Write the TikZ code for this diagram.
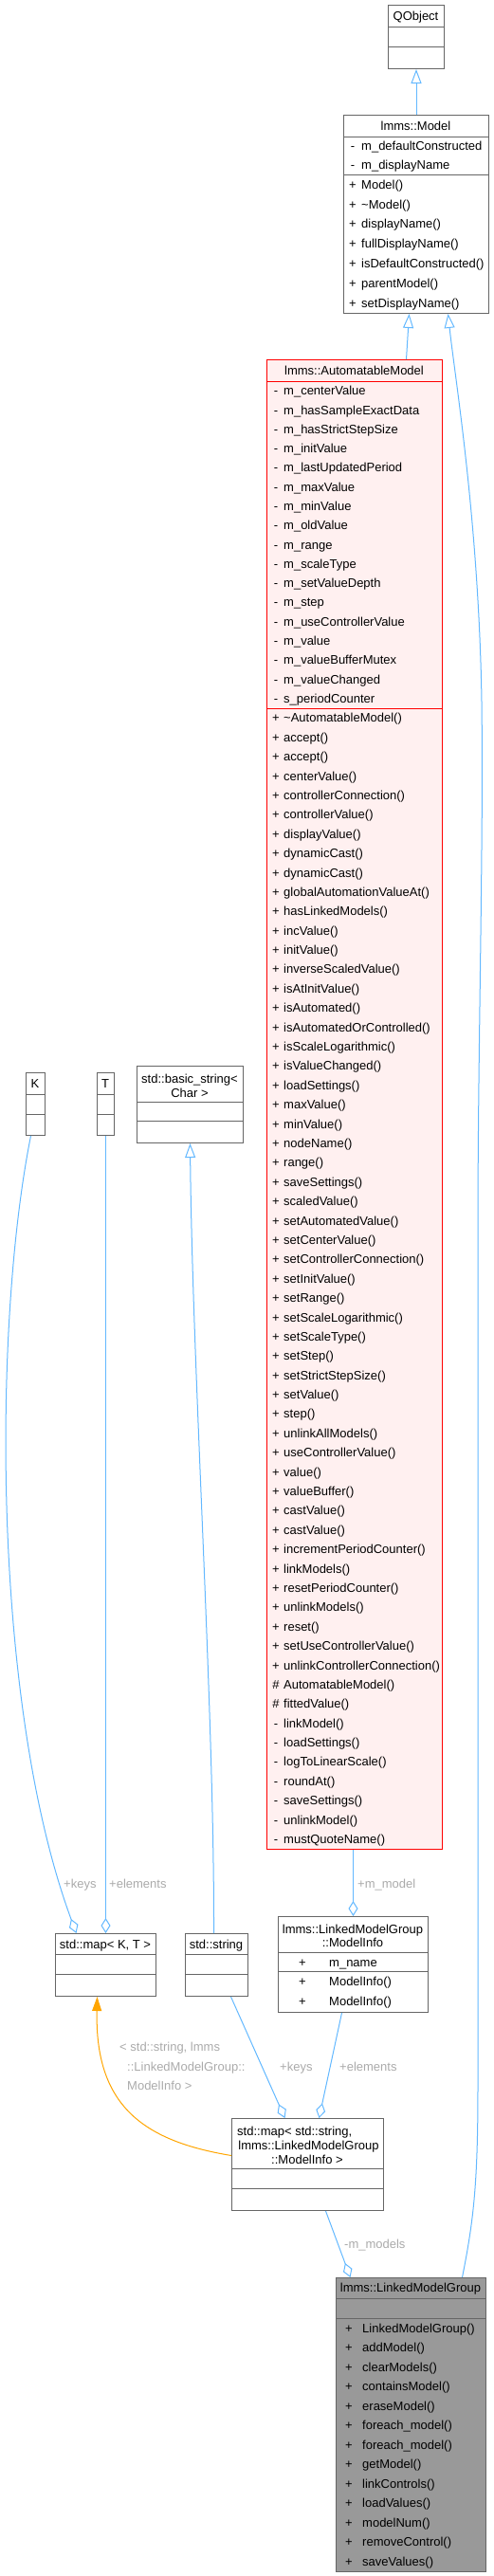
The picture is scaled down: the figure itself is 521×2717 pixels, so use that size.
\documentclass[tikz,border=0pt]{standalone}
\usepackage{fontspec}
\setmainfont{Liberation Sans}
\usetikzlibrary{arrows.meta}

\definecolor{edgeblue}{HTML}{63B8FF}
\definecolor{boxgray}{HTML}{666666}
\definecolor{labelgray}{HTML}{AAAAAA}
\definecolor{hlred}{HTML}{FF0000}
\definecolor{hlfill}{HTML}{FFF0F0}
\definecolor{maingray}{HTML}{999999}
\definecolor{tmplorange}{HTML}{FFA500}

\tikzset{
  classbox/.style={draw=boxgray, fill=white, line width=1pt, inner sep=0pt, anchor=north west},
  rule/.style={draw=boxgray, line width=1pt},
  txt/.style={font=\fontsize{13}{15}\selectfont, inner sep=0pt},
  title/.style={txt, anchor=base},
  member/.style={txt, anchor=base west},
  vis/.style={txt, anchor=base},
  edgelabel/.style={txt, anchor=base west, text=labelgray},
  inherit/.style={draw=edgeblue, line width=1pt, -{Triangle[open, length=15pt, width=11pt]}},
  usage/.style={draw=edgeblue, line width=1pt, -{Diamond[open, length=16pt, width=10pt]}},
  tmpl/.style={draw=tmplorange, line width=1pt, -{Triangle[length=15pt, width=10pt]}},
}

\begin{document}
\begin{tikzpicture}[x=1pt, y=-1pt]
  \useasboundingbox (0,0) rectangle (521,2717);

  % QObject
  \node[classbox, minimum width=59pt, minimum height=67pt] (qobject) at (409,5) {};
  \draw[rule] (409,28) -- (468,28) (409,49) -- (468,49);
  \node[title] (qobject-t) at (438.5,21) {QObject};

  % lmms::Model
  \node[classbox, minimum width=153pt, minimum height=209pt] (model) at (362,121) {};
  \draw[rule] (362,144) -- (515,144) (362,184) -- (515,184);
  \node[title] (model-t) at (438.5,137) {lmms::Model};
  \foreach \p/\m [count=\i from 0] in {-/m\_defaultConstructed, -/m\_displayName} {
    \node[vis] (model-ap\i) at (372,144+\i*20+14.8) {\p};
    \node[member] (model-a\i) at (381,144+\i*20+14.8) {\m};
  }
  \foreach \p/\m [count=\i from 0] in {+/Model(), +/\textasciitilde Model(), +/displayName(),
      +/fullDisplayName(), +/isDefaultConstructed(), +/parentModel(), +/setDisplayName()} {
    \node[vis] (model-mp\i) at (372,184+\i*20.86+15.2) {\p};
    \node[member] (model-m\i) at (381,184+\i*20.86+15.2) {\m};
  }

  % lmms::AutomatableModel
  \node[classbox, draw=hlred, fill=hlfill, minimum width=185pt, minimum height=1571pt] (automatable) at (281,379) {};
  \draw[rule, draw=hlred] (281,402) -- (466,402) (281,747) -- (466,747);
  \node[title] (automatable-t) at (373.5,395) {lmms::AutomatableModel};
  \foreach \m [count=\i from 0] in {m\_centerValue, m\_hasSampleExactData, m\_hasStrictStepSize,
      m\_initValue, m\_lastUpdatedPeriod, m\_maxValue, m\_minValue, m\_oldValue, m\_range,
      m\_scaleType, m\_setValueDepth, m\_step, m\_useControllerValue, m\_value,
      m\_valueBufferMutex, m\_valueChanged, s\_periodCounter} {
    \node[vis] (automatable-ap\i) at (291,402+\i*20.29+14.8) {-};
    \node[member] (automatable-a\i) at (299,402+\i*20.29+14.8) {\m};
  }
  \foreach \p/\m [count=\i from 0] in {+/\textasciitilde AutomatableModel(), +/accept(), +/accept(),
      +/centerValue(), +/controllerConnection(), +/controllerValue(), +/displayValue(),
      +/dynamicCast(), +/dynamicCast(), +/globalAutomationValueAt(), +/hasLinkedModels(),
      +/incValue(), +/initValue(), +/inverseScaledValue(), +/isAtInitValue(), +/isAutomated(),
      +/isAutomatedOrControlled(), +/isScaleLogarithmic(), +/isValueChanged(), +/loadSettings(),
      +/maxValue(), +/minValue(), +/nodeName(), +/range(), +/saveSettings(), +/scaledValue(),
      +/setAutomatedValue(), +/setCenterValue(), +/setControllerConnection(), +/setInitValue(),
      +/setRange(), +/setScaleLogarithmic(), +/setScaleType(), +/setStep(), +/setStrictStepSize(),
      +/setValue(), +/step(), +/unlinkAllModels(), +/useControllerValue(), +/value(),
      +/valueBuffer(), +/castValue(), +/castValue(), +/incrementPeriodCounter(), +/linkModels(),
      +/resetPeriodCounter(), +/unlinkModels(), +/reset(), +/setUseControllerValue(),
      +/unlinkControllerConnection(), \#/AutomatableModel(), \#/fittedValue(), -/linkModel(),
      -/loadSettings(), -/logToLinearScale(), -/roundAt(), -/saveSettings(), -/unlinkModel(),
      -/mustQuoteName()} {
    \node[vis] (automatable-mp\i) at (291,747+\i*20.39+14.9) {\p};
    \node[member] (automatable-m\i) at (299,747+\i*20.39+14.9) {\m};
  }

  % K, T, std::basic_string< Char >
  \node[classbox, minimum width=20pt, minimum height=66pt] (k) at (27,1131) {};
  \draw[rule] (27,1154) -- (47,1154) (27,1175) -- (47,1175);
  \node[title] (k-t) at (37,1147) {K};
  \node[classbox, minimum width=18pt, minimum height=66pt] (t) at (102,1131) {};
  \draw[rule] (102,1154) -- (120,1154) (102,1175) -- (120,1175);
  \node[title] (t-t) at (111,1147) {T};
  \node[classbox, minimum width=112pt, minimum height=81pt] (basic) at (144,1124) {};
  \draw[rule] (144,1162) -- (256,1162) (144,1182) -- (256,1182);
  \node[title] (basic-t1) at (200,1142) {std::basic\_string<};
  \node[title] (basic-t2) at (200,1157) {Char >};

  % std::map< K, T >, std::string
  \node[classbox, minimum width=106pt, minimum height=66pt] (mapkt) at (58,2039) {};
  \draw[rule] (58,2061) -- (164,2061) (58,2082) -- (164,2082);
  \node[title] (mapkt-t) at (111,2055) {std::map< K, T >};
  \node[classbox, minimum width=66pt, minimum height=66pt] (string) at (195,2039) {};
  \draw[rule] (195,2061) -- (261,2061) (195,2082) -- (261,2082);
  \node[title] (string-t) at (228,2055) {std::string};

  % lmms::LinkedModelGroup::ModelInfo
  \node[classbox, minimum width=158pt, minimum height=101pt] (modelinfo) at (293,2021) {};
  \draw[rule] (293,2059) -- (451,2059) (293,2079) -- (451,2079);
  \node[title] (modelinfo-t1) at (372,2039) {lmms::LinkedModelGroup};
  \node[title] (modelinfo-t2) at (372,2053.5) {::ModelInfo};
  \node[vis] (modelinfo-ap0) at (319,2074.5) {+};
  \node[member] (modelinfo-a0) at (347,2074.5) {m\_name};
  \foreach \i in {0,1} {
    \node[vis] (modelinfo-mp\i) at (319,2079+\i*21.5+15.4) {+};
    \node[member] (modelinfo-m\i) at (347,2079+\i*21.5+15.4) {ModelInfo()};
  }

  % std::map< std::string, lmms::LinkedModelGroup::ModelInfo >
  \node[classbox, minimum width=160pt, minimum height=97pt] (bigmap) at (244,2234) {};
  \draw[rule] (244,2287) -- (404,2287) (244,2308) -- (404,2308);
  \node[member] (bigmap-t1) at (250,2252) {std::map< std::string,};
  \node[title] (bigmap-t2) at (325.5,2267) {lmms::LinkedModelGroup};
  \node[title] (bigmap-t3) at (324,2282) {::ModelInfo >};

  % lmms::LinkedModelGroup
  \node[classbox, fill=maingray, minimum width=158pt, minimum height=310pt] (lmg) at (354,2402) {};
  \draw[rule] (354,2424) -- (512,2424) (354,2445) -- (512,2445);
  \node[title] (lmg-t) at (433,2417.6) {lmms::LinkedModelGroup};
  \foreach \m [count=\i from 0] in {LinkedModelGroup(), addModel(), clearModels(), containsModel(),
      eraseModel(), foreach\_model(), foreach\_model(), getModel(), linkControls(), loadValues(),
      modelNum(), removeControl(), saveValues()} {
    \node[vis] (lmg-mp\i) at (368,2445+\i*20.54+15) {+};
    \node[member] (lmg-m\i) at (382,2445+\i*20.54+15) {\m};
  }

  % Inheritance
  \draw[inherit] (model.north) -- (qobject.south);
  \draw[inherit] ([xshift=54.5pt]automatable.north) -- ([xshift=-7.5pt]model.south);
  \draw[inherit] ([xshift=54pt]lmg.north) .. controls (500,2340) and (504,2300) .. (504,2200)
    -- (504,1300) .. controls (504,1100) and (510,900) .. (508,740)
    .. controls (505,550) and (480,400) .. ([xshift=33.5pt]model.south);
  \draw[inherit] ([xshift=-3pt]string.north) .. controls (226,1800) and (203,1450) .. (basic.south);

  % Usage
  \draw[usage] ([xshift=-5pt]k.south) .. controls (-8,1400) and (-8,1800) .. ([xshift=-31pt]mapkt.north);
  \draw[usage] (t.south) -- (mapkt.north);
  \draw[usage] ([xshift=-1.5pt]automatable.south) -- (modelinfo.north);
  \draw[usage] ([xshift=15pt]string.south) -- ([xshift=-24pt]bigmap.north);
  \draw[usage] ([xshift=-12pt]modelinfo.south) -- ([xshift=12pt]bigmap.north);
  \draw[usage] ([xshift=19pt]bigmap.south) -- ([xshift=-64pt]lmg.north);

  % Template instance
  \draw[tmpl] ([yshift=9.5pt]bigmap.west) .. controls (150,2258) and (100,2220) .. ([xshift=-9pt]mapkt.south);

  % Edge labels
  \node[edgelabel] (lbl-keys1) at (67,1991.5) {+keys};
  \node[edgelabel] (lbl-elements1) at (115,1991.5) {+elements};
  \node[edgelabel] (lbl-model) at (377,1991.5) {+m\_model};
  \node[edgelabel] (lbl-keys2) at (295,2184) {+keys};
  \node[edgelabel] (lbl-elements2) at (358,2184) {+elements};
  \node[edgelabel] (lbl-tmpl1) at (126,2163.5) {< std::string, lmms};
  \node[edgelabel] (lbl-tmpl2) at (134,2184) {::LinkedModelGroup::};
  \node[edgelabel] (lbl-tmpl3) at (134,2204) {ModelInfo >};
  \node[edgelabel] (lbl-models) at (363,2371.5) {-m\_models};
\end{tikzpicture}
\end{document}
